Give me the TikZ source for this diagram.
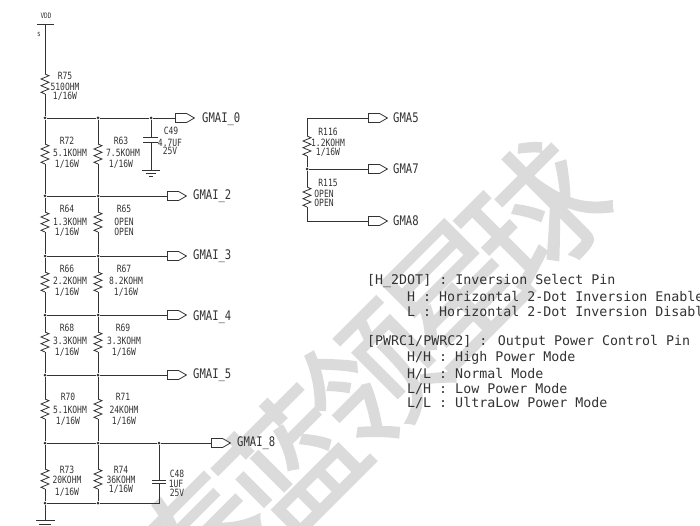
\documentclass[tikz,border=0pt]{standalone}
\usepackage{fontspec}
\usepackage{xcolor}
\usepackage{tikz}
\usetikzlibrary{shapes.symbols}
\newfontfamily\schfont[FakeStretch=0.8]{DejaVu Sans Mono}
\newfontfamily\notefont{DejaVu Sans Mono}
\newfontfamily\markfont[FakeBold=1.6]{Noto Sans CJK SC}
\definecolor{wirecol}{gray}{0.2}
\definecolor{markcol}{gray}{0.86}
\tikzset{
	wire/.style={wirecol,line width=0.8pt},
	dotj/.style={circle,fill=wirecol,inner sep=0pt,minimum size=3pt},
	port/.style={draw=wirecol,line width=0.8pt,shape=signal,signal to=east,signal from=nowhere,signal pointer angle=60,inner sep=0pt,minimum width=19pt,minimum height=9pt,anchor=west},
	lbl/.style={inner sep=0pt,text=wirecol,font=\schfont\fontsize{10pt}{11pt}\selectfont},
	tinylbl/.style={inner sep=0pt,text=wirecol,font=\schfont\fontsize{7.5pt}{9pt}\selectfont},
	netlbl/.style={inner sep=0pt,anchor=west,text=wirecol,font=\schfont\fontsize{13.2pt}{15pt}\selectfont},
	notelbl/.style={inner sep=0pt,anchor=west,text=wirecol,font=\notefont\fontsize{13.3pt}{14pt}\selectfont},
	marklbl/.style={inner sep=0pt,rotate=45,text=markcol,font=\markfont\fontsize{135pt}{140pt}\selectfont},
	res/.pic={
		\coordinate (-t) at (0,0);
		\coordinate (-b) at (0,20);
		\draw[wire] (0,0) -- (4,1.7) -- (-4,5) -- (4,8.3) -- (-4,11.7) -- (4,15) -- (-4,18.3) -- (0,20);
	},
}
\begin{document}
\begin{tikzpicture}[x=1pt,y=-1pt]
		\clip (0,0) rectangle (700,526);
		\fill[white] (0,0) rectangle (700,526);
		% watermark
		\node[marklbl] (m1) at (200,545) {泰};
		\node[marklbl] (m2) at (290,462) {蓝};
		\node[marklbl] (m3) at (372,378) {领};
		\node[marklbl] (m4) at (453,292) {星};
		\node[marklbl] (m5) at (535,215) {球};
		% supply
		\node[tinylbl] (vddl) at (46,16) {VDD};
		\coordinate (vdd) at (45,24);
		\draw[wire] (37,24) -- (54,24);
		\node[tinylbl] (pin) at (39,34) {s};
		% junctions
		\node[dotj] (a0) at (45,118) {};
		\node[dotj] (a1) at (45,196) {};
		\node[dotj] (a2) at (45,256) {};
		\node[dotj] (a3) at (45,315) {};
		\node[dotj] (a4) at (45,375) {};
		\node[dotj] (a5) at (45,443) {};
		\node[dotj] (a6) at (45,503) {};
		\node[dotj] (b0) at (98,118) {};
		\node[dotj] (b1) at (98,196) {};
		\node[dotj] (b2) at (98,256) {};
		\node[dotj] (b3) at (98,315) {};
		\node[dotj] (b4) at (98,375) {};
		\node[dotj] (b5) at (98,443) {};
		\node[dotj] (b6) at (98,503) {};
		\node[dotj] (c0) at (151,118) {};
		\node[dotj] (c5) at (159,443) {};
		% resistors
		\pic (r75) at (45,74) {res};
		\pic (r72) at (45,144) {res};
		\pic (r63) at (98,144) {res};
		\pic (r64) at (45,212) {res};
		\pic (r65) at (98,212) {res};
		\pic (r66) at (45,272) {res};
		\pic (r67) at (98,272) {res};
		\pic (r68) at (45,332) {res};
		\pic (r69) at (98,332) {res};
		\pic (r70) at (45,399) {res};
		\pic (r71) at (98,399) {res};
		\pic (r73) at (45,469) {res};
		\pic (r74) at (98,469) {res};
		\pic (r116) at (307,136) {res};
		\pic (r115) at (307,187) {res};
		% left wires
		\draw[wire] (vdd) -- (r75-t);
		\draw[wire] (r75-b) -- (a0);
		\draw[wire] (a0) -- (r72-t);
		\draw[wire] (r72-b) -- (a1);
		\draw[wire] (a1) -- (r64-t);
		\draw[wire] (r64-b) -- (a2);
		\draw[wire] (a2) -- (r66-t);
		\draw[wire] (r66-b) -- (a3);
		\draw[wire] (a3) -- (r68-t);
		\draw[wire] (r68-b) -- (a4);
		\draw[wire] (a4) -- (r70-t);
		\draw[wire] (r70-b) -- (a5);
		\draw[wire] (a5) -- (r73-t);
		\draw[wire] (r73-b) -- (a6);
		\draw[wire] (b0) -- (r63-t);
		\draw[wire] (r63-b) -- (b1);
		\draw[wire] (b1) -- (r65-t);
		\draw[wire] (r65-b) -- (b2);
		\draw[wire] (b2) -- (r67-t);
		\draw[wire] (r67-b) -- (b3);
		\draw[wire] (b3) -- (r69-t);
		\draw[wire] (r69-b) -- (b4);
		\draw[wire] (b4) -- (r71-t);
		\draw[wire] (r71-b) -- (b5);
		\draw[wire] (b5) -- (r74-t);
		\draw[wire] (r74-b) -- (b6);
		% ports
		\node[port] (p0) at (175,118) {};
		\node[port] (p2) at (167,196) {};
		\node[port] (p3) at (167,256) {};
		\node[port] (p4) at (167,315) {};
		\node[port] (p5) at (167,375) {};
		\node[port] (p8) at (211,443) {};
		\draw[wire] (a0) -- (b0) -- (c0) -- (p0.west);
		\draw[wire] (a1) -- (b1) -- (p2.west);
		\draw[wire] (a2) -- (b2) -- (p3.west);
		\draw[wire] (a3) -- (b3) -- (p4.west);
		\draw[wire] (a4) -- (b4) -- (p5.west);
		\draw[wire] (a5) -- (b5) -- (c5) -- (p8.west);
		\node[netlbl] (n0) at (202,119) {GMAI\_0};
		\node[netlbl] (n2) at (193,196) {GMAI\_2};
		\node[netlbl] (n3) at (193,256) {GMAI\_3};
		\node[netlbl] (n4) at (193,317) {GMAI\_4};
		\node[netlbl] (n5) at (193,375) {GMAI\_5};
		\node[netlbl] (n8) at (237,443) {GMAI\_8};
		% capacitors
		\coordinate (c49t) at (151,137.5);
		\coordinate (c49b) at (151,142.5);
		\coordinate (gnda) at (151,170);
		\draw[wire] (c0) -- (c49t);
		\draw[wire] (c49b) -- (gnda);
		\draw[wire] (143,137.5) -- (158,137.5);
		\draw[wire] (143,142.5) -- (158,142.5);
		\draw[wire] (142,170) -- (160,170);
		\draw[wire] (146,173) -- (156,173);
		\draw[wire] (149,176) -- (153,176);
		\coordinate (c48t) at (159,480);
		\coordinate (c48b) at (159,483.5);
		\coordinate (c48e) at (159,503);
		\draw[wire] (c5) -- (c48t);
		\draw[wire] (c48b) -- (c48e) -- (b6) -- (a6);
		\draw[wire] (152,480) -- (166,480);
		\draw[wire] (152,483.5) -- (166,483.5);
		\coordinate (gndb) at (45,520);
		\draw[wire] (a6) -- (gndb);
		\draw[wire] (36,520) -- (55,520);
		\draw[wire] (39,524) -- (51,524);
		% part labels
		\node[lbl] (l1) at (65,76) {R75};
		\node[lbl] (l2) at (65,87) {510OHM};
		\node[lbl] (l3) at (65,96) {1/16W};
		\node[lbl] (l4) at (67,141) {R72};
		\node[lbl] (l5) at (70,153) {5.1KOHM};
		\node[lbl] (l6) at (67,164) {1/16W};
		\node[lbl] (l7) at (121,141) {R63};
		\node[lbl] (l8) at (123,153) {7.5KOHM};
		\node[lbl] (l9) at (121,164) {1/16W};
		\node[lbl] (l10) at (171,131) {C49};
		\node[lbl] (l11) at (170,143) {4.7UF};
		\node[lbl] (l12) at (170,151) {25V};
		\node[lbl] (l13) at (67,209) {R64};
		\node[lbl] (l14) at (70,222) {1.3KOHM};
		\node[lbl] (l15) at (67,232) {1/16W};
		\node[lbl] (l16) at (124,209) {R65};
		\node[lbl] (l17) at (124,222) {OPEN};
		\node[lbl] (l18) at (124,232) {OPEN};
		\node[lbl] (l19) at (67,269) {R66};
		\node[lbl] (l20) at (70,281) {2.2KOHM};
		\node[lbl] (l21) at (67,292) {1/16W};
		\node[lbl] (l22) at (124,269) {R67};
		\node[lbl] (l23) at (126,281) {8.2KOHM};
		\node[lbl] (l24) at (126,292) {1/16W};
		\node[lbl] (l25) at (67,328) {R68};
		\node[lbl] (l26) at (70,341) {3.3KOHM};
		\node[lbl] (l27) at (67,352) {1/16W};
		\node[lbl] (l28) at (123,328) {R69};
		\node[lbl] (l29) at (124,341) {3.3KOHM};
		\node[lbl] (l30) at (124,352) {1/16W};
		\node[lbl] (l31) at (68,397) {R70};
		\node[lbl] (l32) at (70,410) {5.1KOHM};
		\node[lbl] (l33) at (68,421) {1/16W};
		\node[lbl] (l34) at (123,397) {R71};
		\node[lbl] (l35) at (124,410) {24KOHM};
		\node[lbl] (l36) at (124,421) {1/16W};
		\node[lbl] (l37) at (67,470) {R73};
		\node[lbl] (l38) at (67,480) {20KOHM};
		\node[lbl] (l39) at (67,492) {1/16W};
		\node[lbl] (l40) at (121,470) {R74};
		\node[lbl] (l41) at (121,480) {36KOHM};
		\node[lbl] (l42) at (121,489) {1/16W};
		\node[lbl] (l43) at (177,474) {C48};
		\node[lbl] (l44) at (176,484) {1UF};
		\node[lbl] (l45) at (177,493) {25V};
		% right group
		\node[dotj] (d1) at (307,169) {};
		\coordinate (d0) at (307,118);
		\coordinate (d2) at (307,221);
		\node[port] (q5) at (368,118) {};
		\node[port] (q7) at (368,169) {};
		\node[port] (q8) at (368,221) {};
		\draw[wire] (r116-t) -- (d0) -- (q5.west);
		\draw[wire] (r116-b) -- (d1) -- (q7.west);
		\draw[wire] (d1) -- (r115-t);
		\draw[wire] (r115-b) -- (d2) -- (q8.west);
		\node[netlbl] (n9) at (393,118) {GMA5};
		\node[netlbl] (n10) at (393,169) {GMA7};
		\node[netlbl] (n11) at (393,221) {GMA8};
		\node[lbl] (l46) at (328,132) {R116};
		\node[lbl] (l47) at (328,143) {1.2KOHM};
		\node[lbl] (l48) at (328,152) {1/16W};
		\node[lbl] (l49) at (328,183) {R115};
		\node[lbl] (l50) at (324,194) {OPEN};
		\node[lbl] (l51) at (324,203) {OPEN};
		% notes
		\node[notelbl] (t1) at (367,281) {[H\_2DOT] : Inversion Select Pin};
		\node[notelbl] (t2) at (407,297) {H : Horizontal 2-Dot Inversion Enable};
		\node[notelbl] (t3) at (407,312) {L : Horizontal 2-Dot Inversion Disable};
		\node[notelbl] (t4) at (367,342) {[PWRC1/PWRC2] : Output Power Control Pin};
		\node[notelbl] (t5) at (407,358) {H/H : High Power Mode};
		\node[notelbl] (t6) at (407,374) {H/L : Normal Mode};
		\node[notelbl] (t7) at (407,389) {L/H : Low Power Mode};
		\node[notelbl] (t8) at (407,403) {L/L : UltraLow Power Mode};
	\end{tikzpicture}
\end{document}
